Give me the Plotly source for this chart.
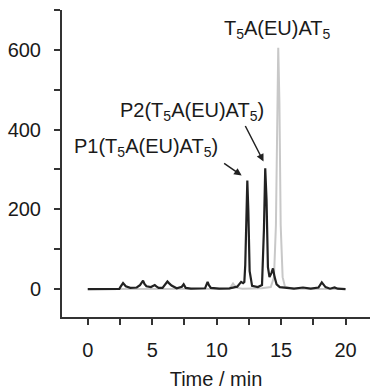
import plotly.graph_objects as go

# Black trace (sample)
black_time = [0, 2.45, 2.55, 2.65, 2.74, 2.85, 2.95, 3.3, 3.8, 4.05, 4.18, 4.29, 4.4, 4.55, 4.9, 5.1, 5.2, 5.32, 5.5,
              5.8, 5.98, 6.08, 6.18, 6.3, 6.5, 6.9, 7.3, 7.44, 7.6, 8.0, 9.1, 9.22, 9.3, 9.4, 9.55, 10.2, 11.0,
              11.6, 11.8, 11.9, 12.05, 12.15, 12.22,
              12.3, 12.38, 12.46, 12.56, 12.75, 13.2, 13.52, 13.67, 13.77, 13.87, 13.98, 14.1,
              14.25, 14.37, 14.5, 14.65, 14.9, 15.3, 16.0, 16.7, 17.3, 17.9, 18.05, 18.16, 18.28, 18.45, 18.8,
              19.15, 19.4, 20]
black_signal = [0, 0.5, 6, 12, 15, 11, 7, 3, 4, 10, 18, 21, 13, 7, 5, 8, 10, 7, 3,
                3, 10, 16, 19, 15, 9, 2, 6, 12, 3, 1, 2, 12, 18, 10, 3, 1, 2,
                6, 14, 18, 15, 18, 60,
                200, 272, 195, 45, 8, 5, 10, 150, 303, 225, 55, 30,
                40, 52, 30, 12, 5, 3, 1, 4, 1, 4, 13, 17, 12, 5, 1,
                4, 1, 0]

# Gray trace (reference T5A(EU)AT5)
gray_time = [0, 11.0, 11.15, 11.27, 11.4, 11.6, 12.0, 13.5, 14.2, 14.45, 14.6, 14.69, 14.78, 14.87, 14.97, 15.12, 15.3, 16.0, 20]
gray_signal = [0, 1, 8, 14, 8, 3, 1, 2, 5, 30, 160, 470, 605, 470, 160, 30, 6, 1, 0]

x_ticks = [0, 5, 10, 15, 20]
y_ticks = [0, 200, 400, 600]

FONT = "Liberation Sans, Arial, sans-serif"
TXT = "#1a1a1a"
AX = "#333333"

fig = go.Figure()
fig.add_trace(go.Scatter(x=gray_time, y=gray_signal, mode="lines",
                         line=dict(color="#c8c8c8", width=2), hoverinfo="skip"))
fig.add_trace(go.Scatter(x=black_time, y=black_signal, mode="lines",
                         line=dict(color="#222222", width=2.2), hoverinfo="skip"))

annotations = [
    dict(x=14.73, y=652, text="T<sub>5</sub>A(EU)AT<sub>5</sub>", showarrow=False),
    dict(x=8.06, y=445, text="P2(T<sub>5</sub>A(EU)AT<sub>5</sub>)", showarrow=False),
    dict(x=4.5, y=355, text="P1(T<sub>5</sub>A(EU)AT<sub>5</sub>)", showarrow=False),
    dict(x=13.64, y=320, text="", showarrow=True, ax=-19, ay=-37,
         arrowhead=2, arrowsize=1, arrowwidth=1.5, arrowcolor="#222222"),
    dict(x=11.94, y=285, text="", showarrow=True, ax=-19, ay=-13,
         arrowhead=2, arrowsize=1, arrowwidth=1.5, arrowcolor="#222222"),
]
for a in annotations:
    a.update(xref="x", yref="y", font=dict(family=FONT, size=20, color=TXT))

fig.update_layout(
    width=370, height=391,
    margin=dict(l=62, r=0, t=10, b=74),
    paper_bgcolor="white", plot_bgcolor="white",
    showlegend=False,
    font=dict(family=FONT, size=20, color=TXT),
    annotations=annotations,
    xaxis=dict(range=[-2, 21.9], tickvals=x_ticks, ticks="outside", ticklen=6, tickwidth=1.5,
               tickcolor=AX, showline=True, linecolor=AX, linewidth=2, showgrid=False,
               zeroline=False, ticklabelstandoff=8, automargin=False,
               minor=dict(dtick=2.5, tick0=0, ticks="outside", ticklen=6, tickcolor=AX, tickwidth=1.5, showgrid=False),
               title=dict(text="Time / min", font=dict(size=20), standoff=12)),
    yaxis=dict(range=[-70, 700], tickvals=y_ticks, ticks="outside", ticklen=6, tickwidth=1.5,
               tickcolor=AX, showline=True, linecolor=AX, linewidth=2, showgrid=False,
               zeroline=False, ticklabelstandoff=9, automargin=False,
               minor=dict(dtick=100, tick0=0, ticks="outside", ticklen=6, tickcolor=AX, tickwidth=1.5, showgrid=False)),
)

fig.write_html("out.html", config={"displayModeBar": False},
               post_script="document.body.style.margin='0';document.body.style.padding='0';")
